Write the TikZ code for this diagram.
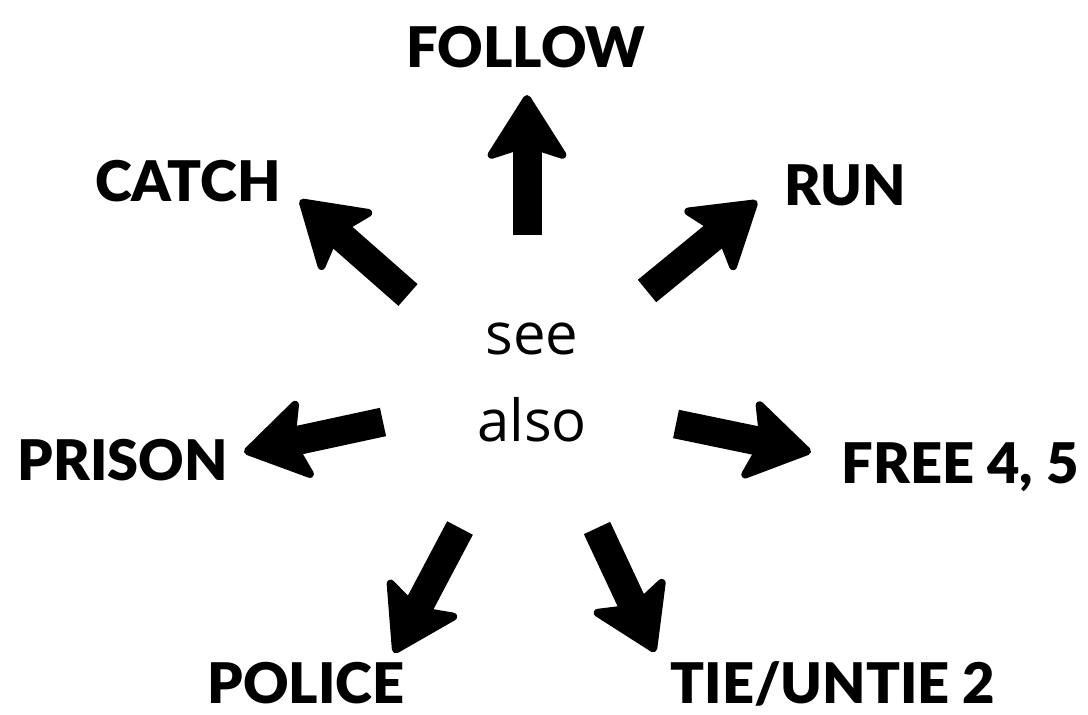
\documentclass[tikz,border=0pt]{standalone}
\usepackage{fontspec}
\setmainfont{Open Sans}
\newfontfamily\heavyfont{Lato}[UprightFont=* Black]
\usetikzlibrary{arrows.meta}

\begin{document}
\begin{tikzpicture}[x=0.5pt, y=-0.5pt,
    word/.style={font=\heavyfont\fontsize{28}{28}\selectfont, anchor=base, inner sep=0pt},
    hub/.style={font=\fontsize{29}{43.5}\selectfont, align=center, inner sep=0pt},
    fat/.style={line width=14.5pt, -{Stealth[length=35pt, width=44pt, inset=7pt, line width=4pt, round]}}]
  \path[use as bounding box] (0,0) rectangle (1088,715);
  % centre
  \node[hub] (see) at (532,382) {see\\also};
  % words around it
  \node[word] (follow) at (526,68)  {FOLLOW};
  \node[word] (catch)  at (188,202) {CATCH};
  \node[word] (run)    at (845,206) {RUN};
  \node[word] (prison) at (123,481) {PRISON};
  \node[word] (free)   at (960,484) {FREE 4, 5};
  \node[word] (police) at (306,704) {POLICE};
  \node[word] (tie)    at (833,704) {TIE/UNTIE 2};
  % arrow ends
  \coordinate (fa) at (527,235); \coordinate (fb) at (527,95);
  \coordinate (ca) at (408,295); \coordinate (cb) at (300,200);
  \coordinate (ra) at (647,291); \coordinate (rb) at (757,201);
  \coordinate (pa) at (383,422); \coordinate (pb) at (244,452);
  \coordinate (ea) at (676,424); \coordinate (eb) at (811,452);
  \coordinate (oa) at (460,528); \coordinate (ob) at (394,653);
  \coordinate (ta) at (597,528); \coordinate (tb) at (655,652);
  % arrows
  \draw[fat] (fa) -- (fb);
  \draw[fat] (ca) -- (cb);
  \draw[fat] (ra) -- (rb);
  \draw[fat] (pa) -- (pb);
  \draw[fat] (ea) -- (eb);
  \draw[fat] (oa) -- (ob);
  \draw[fat] (ta) -- (tb);
\end{tikzpicture}
\end{document}
